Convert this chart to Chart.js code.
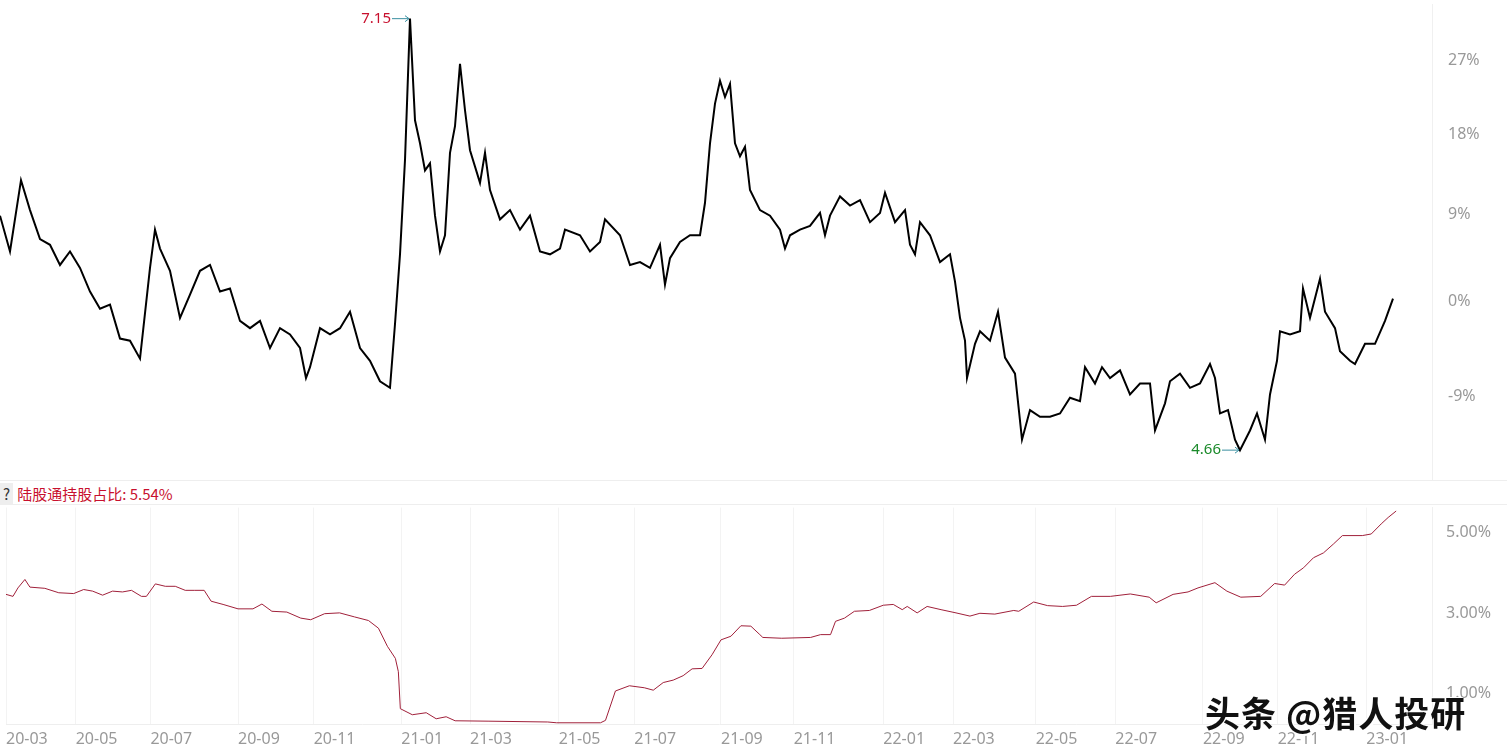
<!DOCTYPE html>
<html>
<head>
<meta charset="utf-8">
<script src="https://cdn.jsdelivr.net/npm/chart.js@4"></script>
<style>
  body { margin:0; background:#fff; width:1507px; height:755px; overflow:hidden; position:relative; font-family:"Noto Sans","Noto Sans CJK SC",sans-serif; }
  #top { position:absolute; left:0; top:-13px; }
  #bot { position:absolute; left:0; top:492px; }
  #band { position:absolute; left:0; top:480px; width:1507px; height:25px; border-top:1px solid #eee; border-bottom:1px solid #eee; box-sizing:border-box; background:#fff; }
  #legend { position:absolute; left:0; top:483px; font-size:15px; color:#c8102e; font-family:"Noto Sans CJK SC",sans-serif; }
  #legend span { background:#eee; color:#333; padding:0 3px; margin-right:4px; }
  #mark { position:absolute; left:1205px; top:686px; font-size:35px; font-weight:bold; font-family:"Noto Sans CJK SC",sans-serif; color:#111; text-shadow:2px 2px 0 #fff, -1px -1px 0 #fff; letter-spacing:1px; }
</style>
</head>
<body>
<canvas id="top" width="1507" height="516"></canvas>
<canvas id="bot" width="1507" height="263"></canvas>
<div id="band"></div>
<div id="legend"><span>?</span>陆股通持股占比: 5.54%</div>
<div id="mark">头条 @猎人投研</div>
<script>
// price line: x position (trading-day axis units) and % change vs base price
const basePrice = 5.40;
const priceX = [0,10,21,30,40,50,60,70,80,90,100,110,120,130,140,150,155,160,170,180,190,200,210,220,230,240,250,260,270,280,290,300,306,310,320,330,340,350,360,370,380,390,395,400,405,410,415,420,425,430,435,440,445,450,455,460,465,470,480,485,490,500,510,520,530,540,550,560,565,580,590,600,605,620,630,640,650,660,665,670,680,690,700,705,710,715,720,725,730,735,740,745,750,760,770,780,785,790,800,810,820,825,830,840,850,860,870,880,885,895,905,910,915,920,930,940,950,955,960,965,967,975,980,990,998,1005,1015,1022,1030,1040,1050,1060,1070,1080,1085,1095,1102,1110,1120,1130,1140,1150,1155,1165,1170,1180,1190,1200,1210,1215,1220,1228,1235,1240,1250,1257,1265,1270,1277,1280,1290,1300,1303,1310,1320,1325,1335,1340,1350,1355,1365,1375,1385,1393];
const pricePct = [8.9,5.1,12.8,9.5,6.4,5.8,3.7,5.1,3.4,1.0,-0.7,-0.3,-3.6,-3.8,-5.5,3.4,7.4,5.4,3.1,-1.6,0.7,3.1,3.7,1.0,1.3,-1.9,-2.6,-1.9,-4.5,-2.6,-3.2,-4.5,-7.3,-6.3,-2.6,-3.2,-2.6,-1.0,-4.5,-5.7,-7.6,-8.2,-2.2,4.8,15.1,32.4,19.7,17.0,13.9,14.7,8.9,5.1,6.8,15.9,19.0,26.6,20.9,16.2,12.5,15.9,11.7,8.5,9.5,7.4,8.9,5.1,4.8,5.4,7.4,6.8,5.1,6.1,8.5,6.8,3.7,4.0,3.4,5.8,1.7,4.4,6.1,6.8,6.8,10.3,17.0,21.7,24.5,22.5,24.1,17.0,15.5,16.6,11.7,9.5,8.9,7.4,5.4,6.8,7.4,7.8,9.2,6.8,8.9,11.0,10.0,10.6,8.2,9.2,11.4,8.2,9.5,5.8,4.8,8.2,6.8,4.0,4.8,2.0,-1.6,-3.8,-7.3,-4.1,-2.9,-3.8,-1.0,-5.4,-6.9,-12.8,-10.2,-10.8,-10.8,-10.5,-9.1,-9.4,-6.3,-7.8,-6.3,-7.3,-6.6,-8.8,-7.8,-7.8,-12.0,-9.6,-7.6,-6.9,-8.2,-7.8,-6.0,-7.3,-10.5,-10.2,-12.8,-13.7,-12.0,-10.5,-12.8,-8.8,-5.7,-2.9,-3.2,-2.9,1.3,-1.6,2.3,-1.0,-2.6,-4.8,-5.7,-6.0,-4.1,-4.1,-1.9,0.3];
const pctTicks = [-9,0,9,18,27];
const maxLabel = "7.15", minLabel = "4.66";

// holding ratio (%)
const holdX = [0,7,12,19,24,39,53,68,78,87,97,107,117,126,136,141,150,160,170,180,189,199,206,218,233,248,257,267,282,296,306,320,335,350,364,374,383,391,394,396,408,422,432,442,451,485,544,553,597,602,612,626,641,650,660,670,680,689,699,709,718,728,738,748,757,
  760,779,808,818,828,833,842,852,867,881,891,900,905,915,925,939,954,968,978,993,1012,1017,1032,1046,1061,1075,1090,1109,1129,1148,1155,1172,1187,1197,1214,1226,1240,1260,1274,1284,1294,1303,1313,1323,1333,1342,1362,1371,1381,1388,1396];
const holdPct = [3.47,3.42,3.63,3.84,3.65,3.62,3.51,3.49,3.59,3.55,3.45,3.55,3.53,3.57,3.42,3.42,3.73,3.67,3.67,3.57,3.57,3.57,3.30,3.22,3.11,3.11,3.23,3.05,3.03,2.88,2.84,2.99,3.01,2.91,2.82,2.63,2.18,1.88,1.55,0.63,0.48,0.53,0.38,0.43,0.33,0.32,0.30,0.28,0.28,0.34,1.07,1.20,1.15,1.09,1.28,1.34,1.45,1.62,1.63,1.97,2.34,2.43,2.69,2.68,2.47,
  2.40,2.38,2.40,2.47,2.47,2.80,2.88,3.05,3.07,3.20,3.22,3.09,3.17,3.01,3.17,3.09,3.01,2.93,3.00,2.98,3.07,3.05,3.28,3.19,3.17,3.20,3.42,3.42,3.48,3.40,3.26,3.47,3.53,3.63,3.76,3.55,3.40,3.42,3.74,3.70,3.97,4.13,4.38,4.50,4.72,4.93,4.93,4.97,5.22,5.38,5.54];
const holdTicks = [1,3,5];

const monthLabels = ["20-03","20-05","20-07","20-09","20-11","21-01","21-03","21-05","21-07","21-09","21-11","22-01","22-03","22-05","22-07","22-09","22-11","23-01"];
const monthX = [0,70,145,233,309,397,466,555,631,718,791,881,951,1034,1114,1202,1277,1366];

const X_MAX = 1432, AXIS_W = 75;
const fixW = function(s){ s.width = AXIS_W; };

let topData = priceX.map((x,i)=>({x:x, y: basePrice*(1+pricePct[i]/100)}));
let hiIdx = pricePct.indexOf(Math.max(...pricePct));
let loIdx = pricePct.indexOf(Math.min(...pricePct));

const markPlugin = {
  id:'marks',
  afterDatasetsDraw(chart){
    const c = chart.ctx, xs = chart.scales.x, ys = chart.scales.y;
    c.save();
    c.font = '15px "Noto Sans"';
    c.textBaseline = 'middle';
    [[hiIdx, maxLabel, '#c8102e'], [loIdx, minLabel, '#1a8a2a']].forEach(([i, t, col])=>{
      let px = xs.getPixelForValue(topData[i].x), py = ys.getPixelForValue(topData[i].y);
      c.strokeStyle = '#3a8fa0'; c.lineWidth = 1;
      c.beginPath(); c.moveTo(px-18, py); c.lineTo(px-1, py);
      c.moveTo(px-5, py-3); c.lineTo(px-1, py); c.lineTo(px-5, py+3); c.stroke();
      c.fillStyle = col; c.textAlign = 'right';
      c.fillText(t, px-19, py);
    });
    c.restore();
  }
};

new Chart(document.getElementById('top'), {
  type:'line',
  data:{ datasets:[{ data: topData, borderColor:'#000', borderWidth:2, pointRadius:0, tension:0 }] },
  options:{
    responsive:false, animation:false,
    layout:{ padding:{top:0,bottom:2,left:0,right:0} },
    plugins:{ legend:{display:false}, tooltip:{enabled:false} },
    scales:{
      x:{ type:'linear', min:0, max:X_MAX, display:false },
      y:{ type:'logarithmic', position:'right', min:4.53, max:7.25,
          afterFit: fixW,
          afterBuildTicks(s){ s.ticks = pctTicks.map(p=>({value: basePrice*(1+p/100)})); },
          ticks:{ color:'#999', font:{size:16, family:'"Noto Sans"'}, padding:8,
                  callback:(v)=> Math.round((v/basePrice-1)*100) + '%' },
          grid:{ display:false },
          border:{ display:true, color:'#f0f0f0' } }
    }
  },
  plugins:[markPlugin]
});

new Chart(document.getElementById('bot'), {
  type:'line',
  data:{ datasets:[{ data: holdX.map((x,i)=>({x:x, y:holdPct[i]})), borderColor:'#a0203a', borderWidth:1, pointRadius:0, tension:0 }] },
  options:{
    responsive:false, animation:false,
    layout:{ padding:{top:2,bottom:0,left:0,right:0} },
    plugins:{ legend:{display:false}, tooltip:{enabled:false} },
    scales:{
      x:{ type:'linear', min:0, max:X_MAX,
          afterFit(s){ s.height = 31; },
          afterBuildTicks(s){ s.ticks = monthX.map(v=>({value:v})); },
          ticks:{ color:'#999', font:{size:16, family:'"Noto Sans"'}, align:'start', maxRotation:0, autoSkip:false, padding:6,
                  callback:(v)=> monthLabels[monthX.indexOf(v)] },
          grid:{ color:'#f3f3f3', drawTicks:false },
          border:{ color:'#eee' } },
      y:{ type:'linear', position:'right', min:0.25, max:5.625,
          afterFit: fixW,
          afterBuildTicks(s){ s.ticks = holdTicks.map(v=>({value:v})); },
          ticks:{ color:'#999', font:{size:16, family:'"Noto Sans"'}, padding:6,
                  callback:(v)=> v.toFixed(2) + '%' },
          grid:{ display:false },
          border:{ color:'#f0f0f0' } }
    }
  }
});
</script>
</body>
</html>
